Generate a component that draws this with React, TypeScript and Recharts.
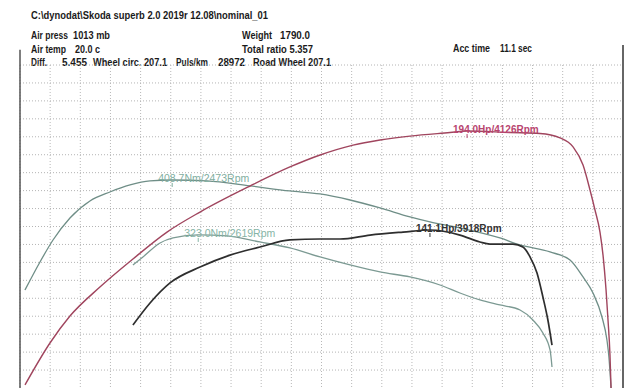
import React from 'react';
import { LineChart, Line, XAxis, YAxis, CartesianGrid, ReferenceDot, ReferenceLine } from 'recharts';

// Header text pieces: [text, left, baseline, width]
const headerItems: [string, number, number, number][] = [
  ['C:\\dynodat\\Skoda superb 2.0 2019r 12.08\\nominal_01', 31, 19, 237],
  ['Air press', 31, 39, 37],
  ['1013 mb', 73, 39, 37],
  ['Air temp', 31, 53, 35],
  ['20.0 c', 75, 53, 25],
  ['Weight', 242, 39, 30],
  ['1790.0', 280, 39, 30],
  ['Total ratio 5.357', 242, 53, 71],
  ['Acc time', 453, 52, 37],
  ['11.1 sec', 500, 52, 32],
  ['Diff.', 31, 66, 16],
  ['5.455', 62, 66, 25],
  ['Wheel circ. 207.1', 93, 66, 74],
  ['Puls/km', 176, 66, 32],
  ['28972', 218, 66, 27],
  ['Road Wheel 207.1', 253, 66, 78],
];

// Run 1 – power (Hp)
const redRpm = [1648, 1788, 1900, 2068, 2253, 2444, 2629, 2909, 3133, 3302, 3487, 3638, 3806, 4030, 4126, 4367, 4535, 4647, 4720, 4776, 4815, 4843, 4871, 4888, 4905, 4916, 4927, 4933];
const redHp = [58.3, 80.7, 95.1, 110.6, 125.6, 140.0, 150.7, 164.6, 174.8, 181.2, 186.5, 189.2, 191.3, 193.2, 194.0, 193.2, 192.7, 190.3, 185.5, 175.8, 162.5, 151.8, 140.0, 127.7, 109.0, 93.0, 74.3, 56.7];
// Run 1 – torque (Nm)
const tqRpm = [1648, 1732, 1805, 1900, 2012, 2124, 2237, 2349, 2473, 2668, 2909, 3133, 3302, 3470, 3638, 3806, 3918, 4086, 4310, 4423, 4591, 4703, 4776, 4832, 4882, 4910, 4921, 4933];
const tqNm = [237.1, 280.8, 315.1, 349.5, 376.0, 390.0, 400.9, 407.2, 408.7, 407.2, 399.4, 391.6, 386.9, 377.5, 365.1, 351.0, 343.2, 333.9, 318.3, 307.3, 296.4, 283.9, 257.4, 232.4, 195.0, 159.1, 132.6, 84.2];
// Run 2 – power (Hp)
const pwRpm = [2253, 2349, 2461, 2629, 2797, 2965, 3133, 3302, 3414, 3582, 3767, 3918, 4086, 4198, 4254, 4383, 4439, 4479, 4518, 4551, 4579, 4602];
const pwHp = [90.3, 102.1, 112.8, 121.3, 127.7, 132.0, 135.8, 136.3, 136.3, 138.4, 140.0, 141.1, 138.4, 134.7, 133.6, 133.6, 132.0, 126.7, 118.1, 105.3, 93.0, 79.6];
// Run 2 – torque (Nm)
const lqRpm = [2253, 2309, 2405, 2478, 2619, 2780, 2965, 3133, 3302, 3470, 3638, 3806, 3974, 4086, 4198, 4310, 4423, 4495, 4551, 4591, 4602];
const lqNm = [276.1, 288.6, 310.5, 318.3, 323.0, 321.4, 312.0, 302.7, 288.6, 276.1, 265.2, 257.4, 244.9, 232.4, 221.5, 213.7, 205.9, 190.3, 170.0, 143.5, 117.0];

// Peak annotations
const peaks = [
  { rpm: 2473, value: 408.7, axis: 'nm', text: '408.7Nm/2473Rpm', color: '#7fae9f', bold: false, size: 10.5 },
  { rpm: 2619, value: 323.0, axis: 'nm', text: '323.0Nm/2619Rpm', color: '#86b4a6', bold: false, size: 10.5 },
  { rpm: 4126, value: 194.0, axis: 'hp', text: '194.0Hp/4126Rpm', color: '#b8456f', bold: true, size: 10 },
  { rpm: 3918, value: 141.1, axis: 'hp', text: '141.1Hp/3918Rpm', color: '#333333', bold: true, size: 10 },
];

const xDomain = [1620, 5000];
const xGridTicks = [1620, 1789, 1958, 2127, 2296, 2465, 2634, 2803, 2972, 3141, 3310, 3479, 3648, 3817, 3986, 4155, 4324, 4493, 4662, 4831, 5000];
const gridRowCount = 18;
const gridRows = [0, 1, 2, 3, 4, 5, 6, 7, 8, 9, 10, 11, 12, 13, 14, 15, 16, 17];
const hpDomain = [56.65, 229.3];
const nmDomain = [84.2, 588.1];
const frameTopHp = 239;

const zip = (xs: number[], ys: number[]) => xs.map((x, i) => ({ rpm: x, v: ys[i] }));
const redData = zip(redRpm, redHp);
const tqData = zip(tqRpm, tqNm);
const pwData = zip(pwRpm, pwHp);
const lqData = zip(lqRpm, lqNm);
const gridHp = gridRows.map((r) => hpDomain[1] - (r * (hpDomain[1] - hpDomain[0])) / gridRowCount);

const labelFont = '"Liberation Sans", Arial, sans-serif';

const PeakShape = (p: any, peak: any) => {
  const { cx, cy } = p;
  return (
    <g>
      <text x={cx - 14} y={cy + 2} fill={peak.color} fontSize={peak.size} fontFamily={labelFont} fontWeight={peak.bold ? 'bold' : 'normal'}>
        {peak.text}
      </text>
      <line x1={cx} x2={cx} y1={cy + 3} y2={cy + 7} stroke={peak.color} strokeWidth={1} />
    </g>
  );
};

export default function App() {
  return (
    <div style={{ position: 'absolute', left: 0, top: 0, width: 640, height: 388, background: '#fff', overflow: 'hidden' }}>
      <svg width={640} height={72} style={{ position: 'absolute', left: 0, top: 0 }}>
        {headerItems.map(([t, l, b, w]) => (
          <text key={t} x={l} y={b} textLength={w} lengthAdjust="spacingAndGlyphs" fontFamily={labelFont} fontSize={10.5} fontWeight="bold" fill="#1a1a1a">
            {t}
          </text>
        ))}
      </svg>
      <div style={{ position: 'absolute', left: 0, top: 0 }}>
        <LineChart width={640} height={388} margin={{ top: 65, right: 17, left: 20, bottom: 0 }}>
          <XAxis type="number" dataKey="rpm" domain={xDomain} ticks={xGridTicks} interval={0} hide allowDataOverflow />
          <YAxis yAxisId="hp" type="number" domain={hpDomain} hide allowDataOverflow />
          <YAxis yAxisId="nm" type="number" domain={nmDomain} hide allowDataOverflow />
          <CartesianGrid yAxisId="hp" horizontal={false} stroke="#b8b8b8" strokeDasharray="1 2" />
          {gridHp.map((v) => (
            <ReferenceLine key={v} yAxisId="hp" y={v} stroke="#b4b4b4" strokeWidth={1} strokeDasharray="1 2" ifOverflow="extendDomain" />
          ))}
          <ReferenceLine yAxisId="hp" segment={[{ x: xDomain[0], y: frameTopHp - 1.5 }, { x: xDomain[0], y: hpDomain[0] }]} stroke="#555" strokeWidth={1.5} ifOverflow="visible" />
          <ReferenceLine yAxisId="hp" segment={[{ x: xDomain[1], y: frameTopHp + 1 }, { x: xDomain[1], y: hpDomain[0] }]} stroke="#666" strokeWidth={2} ifOverflow="visible" />
          <Line yAxisId="nm" data={tqData} dataKey="v" type="monotone" stroke="#6f8e87" strokeWidth={1.3} dot={false} isAnimationActive={false} />
          <Line yAxisId="nm" data={lqData} dataKey="v" type="monotone" stroke="#7c9a93" strokeWidth={1.3} dot={false} isAnimationActive={false} />
          <Line yAxisId="hp" data={redData} dataKey="v" type="monotone" stroke="#a0455e" strokeWidth={1.4} dot={false} isAnimationActive={false} />
          <Line yAxisId="hp" data={pwData} dataKey="v" type="monotone" stroke="#2e2e2e" strokeWidth={1.7} dot={false} isAnimationActive={false} />
          {peaks.map((pk) => (
            <ReferenceDot key={pk.text} yAxisId={pk.axis} x={pk.rpm} y={pk.value} r={0} ifOverflow="visible" shape={(p: any) => PeakShape(p, pk)} />
          ))}
        </LineChart>
      </div>
    </div>
  );
}
